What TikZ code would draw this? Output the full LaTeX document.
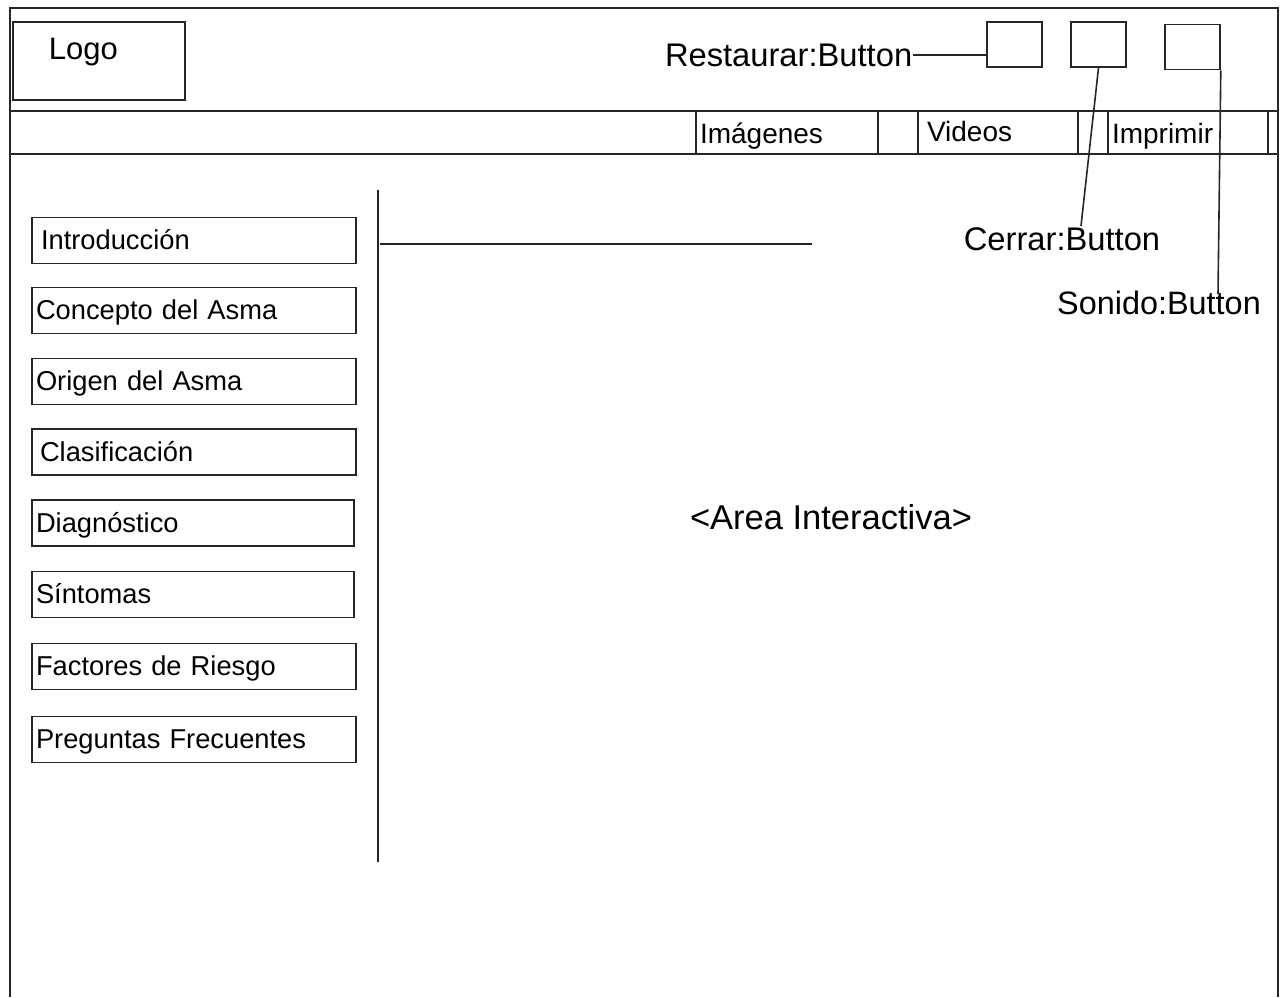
\documentclass[tikz,border=0pt]{standalone}
\usepackage{fontspec}
\setmainfont{Liberation Sans}
\begin{document}
\begin{tikzpicture}[x=1pt,y=-1pt,
  line width=1.6pt,
  frame/.style={draw=black!85},
  menuitem/.style={draw=black!85, minimum height=46pt, text width=316pt,
    inner xsep=4pt, inner ysep=0pt, align=left, text height=21pt, text depth=3pt,
    font=\fontsize{27.3}{31}\selectfont},
  tab/.style={draw=black!85, minimum height=43pt, inner ysep=0pt, inner xsep=4pt,
    align=left, text height=24pt, text depth=3pt, font=\fontsize{28}{32}\selectfont},
  btn/.style={draw=black!85, minimum width=55pt, minimum height=45pt, inner sep=0pt},
  tag/.style={inner sep=0pt, font=\fontsize{32.7}{38}\selectfont},
  wire/.style={draw=black!85}
]
\useasboundingbox (0,0) rectangle (1286,997);

% window frame and header bands
\draw[frame] (10,997) -- (10,8) -- (1278,8) -- (1278,997);
\draw[frame] (10,111) -- (1278,111);
\draw[frame] (10,154) -- (1278,154);

% logo
\node[frame, minimum width=172pt, minimum height=78pt, inner sep=0pt] (logo) at (99,61) {};
\node[tag, anchor=west, font=\fontsize{31}{36}\selectfont] (logotxt) at (48,52) {Logo};

% window buttons
\node[btn] (btnR) at (1014.5,44.5) {};
\node[btn] (btnC) at (1098.5,44.5) {};
\node[btn] (btnS) at (1192.5,47) {};

% button labels
\node[tag, anchor=east] (lblR) at (913,55) {Restaurar:Button};
\node[tag] (lblC) at (1062,239) {Cerrar:Button};
\node[tag, font=\fontsize{32.4}{38}\selectfont] (lblS) at (1159,303) {Sonido:Button};

\coordinate (cEnd) at (1081,226);
\coordinate (sEnd) at (1218,294);
\draw[wire] (lblR.east) -- (lblR.east -| btnR.west);
\draw[wire] (btnC.south) -- (cEnd);
\draw[wire] (btnS.south east) -- (sEnd);

% tabs in the menu bar
\node[tab, minimum width=182pt, text width=174pt] (tabImg) at (787,132.5) {Imágenes};
\node[tab, minimum width=160pt, text width=150pt, text height=22pt, text depth=4pt, inner xsep=5pt] (tabVid) at (998,132.5) {\hspace*{4pt}Videos};
\node[tab, minimum width=160pt, text width=152pt] (tabImp) at (1188,132.5) {Imprimir};

% sidebar
\coordinate (sepTop) at (378,190);
\coordinate (sepBot) at (378,862);
\coordinate (ruleL) at (380,244);
\coordinate (ruleR) at (812,244);
\draw[wire] (sepTop) -- (sepBot);
\draw[wire] (ruleL) -- (ruleR);

\node[menuitem] (m1) at (194,240.5) {\hspace*{5pt}Introducción};
\node[menuitem] (m2) at (194,310.5) {Concepto del Asma};
\node[menuitem] (m3) at (194,381.5) {Origen del Asma};
\node[menuitem] (m4) at (194,452) {\hspace*{4pt}Clasificación};
\node[menuitem, text width=314pt] (m5) at (193,523) {Diagnóstico};
\node[menuitem, text width=314pt] (m6) at (193,594.5) {Síntomas};
\node[menuitem] (m7) at (194,666.5) {Factores de Riesgo};
\node[menuitem] (m8) at (194,739.5) {Preguntas Frecuentes};

% content area
\node[tag, font=\fontsize{34.5}{40}\selectfont] (area) at (831,517) {<Area Interactiva>};
\end{tikzpicture}
\end{document}
